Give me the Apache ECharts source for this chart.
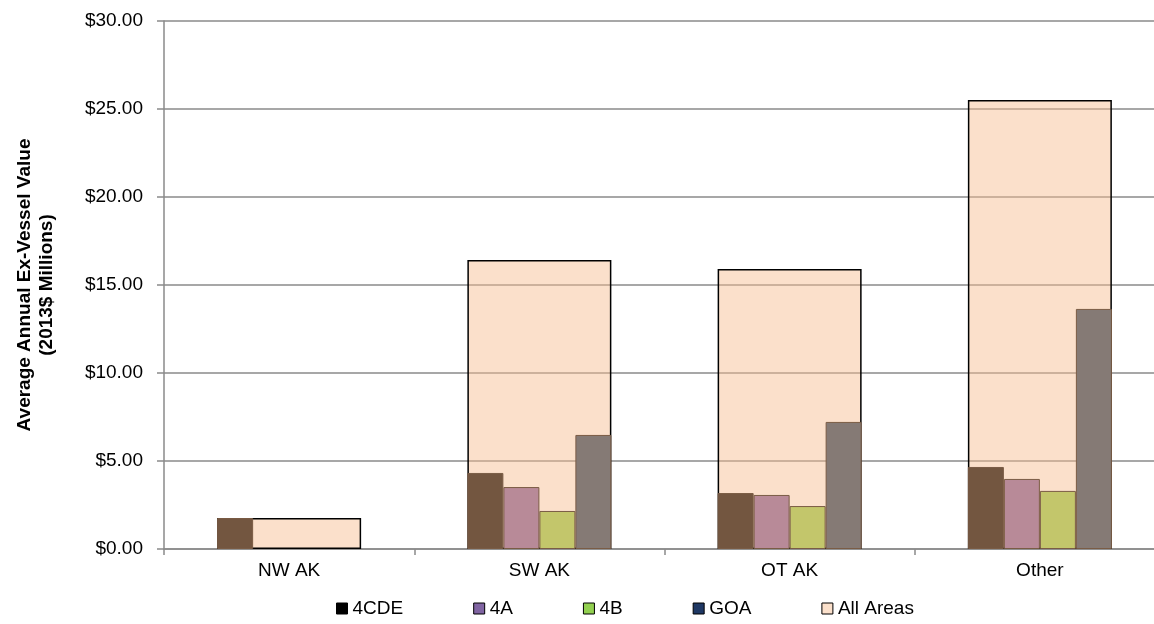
<!DOCTYPE html>
<html>
<head>
<meta charset="utf-8">
<script src="https://cdn.jsdelivr.net/npm/echarts@6/dist/echarts.min.js"></script>
<style>
html,body{margin:0;padding:0;background:#fff;}
#c{width:1154px;height:624px;}
</style>
</head>
<body>
<div id="c"></div>
<script>
var categories = ['NW AK', 'SW AK', 'OT AK', 'Other'];
var s4CDE = [1.76, 4.32, 3.18, 4.66];
var s4A = [null, 3.52, 3.07, 3.98];
var s4B = [null, 2.16, 2.44, 3.30];
var sGOA = [null, 6.48, 7.22, 13.64];
var sAll = [1.76, 16.42, 15.91, 25.51];
var yTicks = [0, 5, 10, 15, 20, 25, 30];

var FONT = '"Liberation Sans", Arial, sans-serif';
var chart = echarts.init(document.getElementById('c'), null, {renderer: 'canvas'});

var subBorder = {borderColor: '#7a5c45', borderWidth: 1};

chart.setOption({
  animation: false,
  backgroundColor: '#ffffff',
  textStyle: {fontFamily: FONT},
  grid: {left: 164, top: 21, width: 1001, bottom: 75, containLabel: false, outerBoundsMode: 'none'},
  legend: {
    left: 331, top: 594,
    itemWidth: 11, itemHeight: 11, itemGap: 70,
    textStyle: {fontFamily: FONT, fontSize: 19, color: '#000'},
    icon: 'rect',
    data: [
      {name: '4CDE', itemStyle: {color: '#000000', borderColor: '#000', borderWidth: 1}},
      {name: '4A', itemStyle: {color: '#8064A2', borderColor: '#000', borderWidth: 1}},
      {name: '4B', itemStyle: {color: '#92D050', borderColor: '#000', borderWidth: 1}},
      {name: 'GOA', itemStyle: {color: '#1F3864', borderColor: '#000', borderWidth: 1}},
      {name: 'All Areas', itemStyle: {color: '#FBE0CB', borderColor: '#000', borderWidth: 1}}
    ]
  },
  xAxis: [
    {
      type: 'category', data: categories,
      axisLine: {lineStyle: {color: '#8a8a8a', width: 1.5}},
      axisTick: {show: true, length: 6, lineStyle: {color: '#8a8a8a', width: 1.5}},
      axisLabel: {fontFamily: FONT, fontSize: 19, color: '#000', margin: 12}
    },
    {
      type: 'category', data: categories, show: false, position: 'bottom'
    }
  ],
  yAxis: {
    type: 'value', min: yTicks[0], max: yTicks[yTicks.length - 1], interval: 5,
    name: 'Average Annual Ex-Vessel Value\n(2013$ Millions)',
    nameLocation: 'middle', nameGap: 106, nameRotate: 90, nameMoveOverlap: false,
    nameTextStyle: {fontFamily: FONT, fontSize: 19, fontWeight: 'bold', color: '#000', lineHeight: 22},
    axisLine: {show: true, lineStyle: {color: '#8a8a8a', width: 1.5}},
    axisTick: {show: true, length: 7, lineStyle: {color: '#8a8a8a', width: 1.5}},
    splitLine: {lineStyle: {color: '#8a8a8a', width: 1.5}},
    axisLabel: {fontFamily: FONT, fontSize: 19, color: '#000', margin: 21,
      formatter: function (v) { return '$' + v.toFixed(2); }}
  },
  series: [
    {name: 'All Areas', type: 'bar', xAxisIndex: 1, data: sAll, barWidth: 144, z: 1,
     itemStyle: {color: 'rgba(247,189,145,0.47)', borderColor: '#000', borderWidth: 1.5}},
    {name: '4CDE', type: 'bar', xAxisIndex: 0, data: s4CDE, barWidth: 36, barGap: '0%', z: 3,
     itemStyle: Object.assign({color: '#735640'}, subBorder)},
    {name: '4A', type: 'bar', xAxisIndex: 0, data: s4A, barWidth: 36, barGap: '0%', z: 3,
     itemStyle: Object.assign({color: '#B88A98'}, subBorder)},
    {name: '4B', type: 'bar', xAxisIndex: 0, data: s4B, barWidth: 36, barGap: '0%', z: 3,
     itemStyle: Object.assign({color: '#C3C66B'}, subBorder)},
    {name: 'GOA', type: 'bar', xAxisIndex: 0, data: sGOA, barWidth: 36, barGap: '0%', z: 3,
     itemStyle: Object.assign({color: '#857A75'}, subBorder)}
  ]
});
</script>
</body>
</html>
